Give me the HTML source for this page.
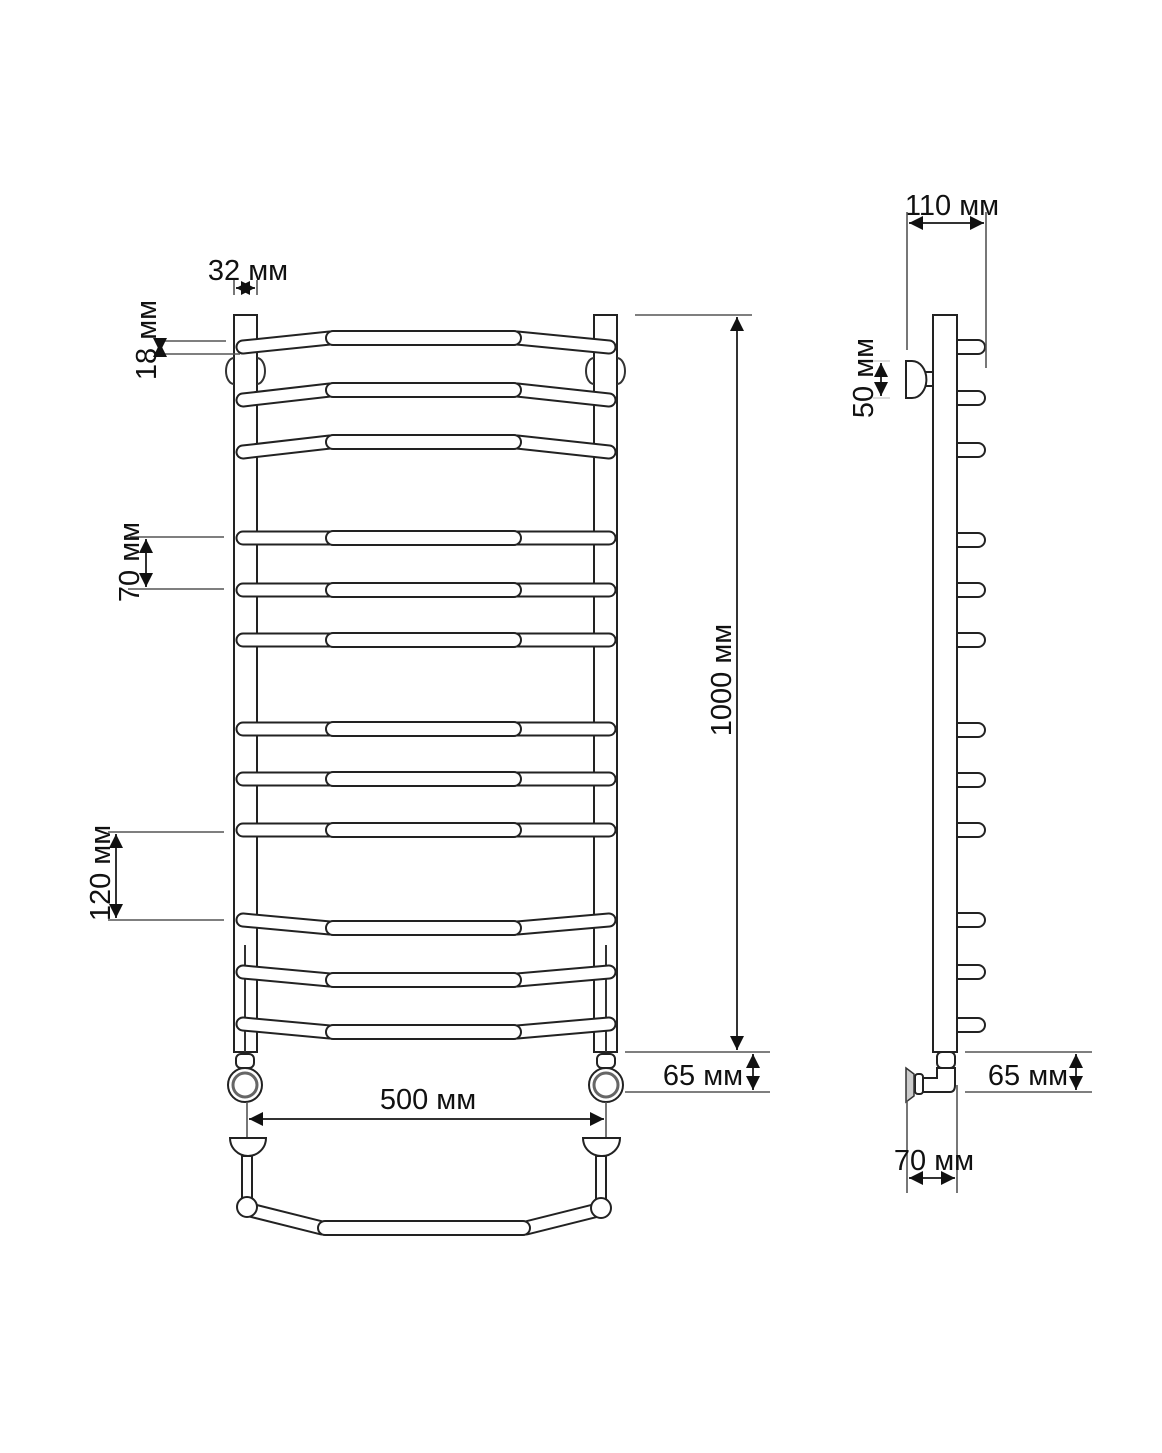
<!DOCTYPE html>
<html><head><meta charset="utf-8"><style>
html,body{margin:0;padding:0;background:#fff}
svg{display:block}
text{font-family:"Liberation Sans",sans-serif;fill:#111}
.o{stroke:#222;stroke-width:15;stroke-linecap:round;fill:none}
.i{stroke:#fff;stroke-width:11;stroke-linecap:round;fill:none}
.m{fill:#fff;stroke:#222;stroke-width:2}
.l{stroke:#333;stroke-width:2;fill:none}
.t{stroke:#555;stroke-width:1.6;fill:none}
</style></head><body>
<svg width="1162" height="1453" viewBox="0 0 1162 1453" xmlns="http://www.w3.org/2000/svg">
<defs>
<marker id="a" viewBox="0 0 10 10" refX="10" refY="5" markerWidth="7" markerHeight="7" orient="auto-start-reverse"><path d="M0,0L10,5L0,10z" fill="#111"/></marker>
</defs>
<rect x="234" y="315" width="23" height="737" class="m"/>
<rect x="594" y="315" width="23" height="737" class="m"/>
<line x1="245" y1="945" x2="245" y2="1052" class="l"/>
<line x1="606" y1="945" x2="606" y2="1052" class="l"/>
<path d="M234,358 A8,13 0 0 0 234,384" class="l"/><path d="M257,358 A8,13 0 0 1 257,384" class="l"/>
<path d="M594,358 A8,13 0 0 0 594,384" class="l"/><path d="M617,358 A8,13 0 0 1 617,384" class="l"/>

<g>
<path d="M243,347L330,338M517,338L609,347" class="o"/><path d="M243,347L330,338M517,338L609,347" class="i"/><rect x="326" y="331" width="195" height="14" rx="7" class="m"/>
<path d="M243,400L330,390M517,390L609,400" class="o"/><path d="M243,400L330,390M517,390L609,400" class="i"/><rect x="326" y="383" width="195" height="14" rx="7" class="m"/>
<path d="M243,452L330,442M517,442L609,452" class="o"/><path d="M243,452L330,442M517,442L609,452" class="i"/><rect x="326" y="435" width="195" height="14" rx="7" class="m"/>
<path d="M243,538L609,538M243,590L609,590M243,640L609,640M243,729L609,729M243,779L609,779M243,830L609,830" class="o"/>
<path d="M243,538L609,538M243,590L609,590M243,640L609,640M243,729L609,729M243,779L609,779M243,830L609,830" class="i"/>
<rect x="326" y="531" width="195" height="14" rx="7" class="m"/>
<rect x="326" y="583" width="195" height="14" rx="7" class="m"/>
<rect x="326" y="633" width="195" height="14" rx="7" class="m"/>
<rect x="326" y="722" width="195" height="14" rx="7" class="m"/>
<rect x="326" y="772" width="195" height="14" rx="7" class="m"/>
<rect x="326" y="823" width="195" height="14" rx="7" class="m"/>
<path d="M243,920L330,928M517,928L609,920" class="o"/><path d="M243,920L330,928M517,928L609,920" class="i"/><rect x="326" y="921" width="195" height="14" rx="7" class="m"/>
<path d="M243,972L330,980M517,980L609,972" class="o"/><path d="M243,972L330,980M517,980L609,972" class="i"/><rect x="326" y="973" width="195" height="14" rx="7" class="m"/>
<path d="M243,1024L330,1032M517,1032L609,1024" class="o"/><path d="M243,1024L330,1032M517,1032L609,1024" class="i"/><rect x="326" y="1025" width="195" height="14" rx="7" class="m"/>
</g>
<g>
<rect x="236" y="1054" width="18" height="14" rx="5" class="m"/>
<circle cx="245" cy="1085" r="17" class="m"/><circle cx="245" cy="1085" r="12" fill="none" stroke="#666" stroke-width="3"/>
<rect x="597" y="1054" width="18" height="14" rx="5" class="m"/>
<circle cx="606" cy="1085" r="17" class="m"/><circle cx="606" cy="1085" r="12" fill="none" stroke="#666" stroke-width="3"/>
<line x1="247" y1="1102" x2="247" y2="1140" class="t"/><line x1="606" y1="1102" x2="606" y2="1140" class="t"/>
</g>
<path d="M230,1138H266A18,18 0 0 1 248,1156A18,18 0 0 1 230,1138Z" class="m"/>
<path d="M583,1138H620A18,18 0 0 1 601,1156A18,18 0 0 1 583,1138Z" class="m"/>
<rect x="242" y="1156" width="10" height="44" class="m"/>
<rect x="596" y="1156" width="10" height="44" class="m"/>
<path d="M250,1210L322,1228M526,1228L598,1210" class="o"/><path d="M250,1210L322,1228M526,1228L598,1210" class="i"/>
<rect x="318" y="1221" width="212" height="14" rx="7" class="m"/>
<circle cx="247" cy="1207" r="10" class="m"/><circle cx="601" cy="1208" r="10" class="m"/>

<text x="248" y="280" font-size="29" text-anchor="middle">32 мм</text>
<line x1="234" y1="280" x2="234" y2="295" class="t"/><line x1="257" y1="280" x2="257" y2="295" class="t"/>
<line x1="236" y1="288" x2="255" y2="288" class="l" marker-start="url(#a)" marker-end="url(#a)"/>
<line x1="160" y1="341" x2="226" y2="341" class="t"/><line x1="155" y1="354" x2="240" y2="354" class="t"/>
<line x1="160" y1="343" x2="160" y2="352" class="l" marker-start="url(#a)" marker-end="url(#a)"/>
<text transform="translate(156,340) rotate(-90)" font-size="29" text-anchor="middle">18 мм</text>
<line x1="130" y1="537" x2="224" y2="537" class="t"/><line x1="128" y1="589" x2="224" y2="589" class="t"/>
<line x1="146" y1="539" x2="146" y2="587" class="l" marker-start="url(#a)" marker-end="url(#a)"/>
<text transform="translate(139,562) rotate(-90)" font-size="29" text-anchor="middle">70 мм</text>
<line x1="108" y1="832" x2="224" y2="832" class="t"/><line x1="108" y1="920" x2="224" y2="920" class="t"/>
<line x1="116" y1="834" x2="116" y2="918" class="l" marker-start="url(#a)" marker-end="url(#a)"/>
<text transform="translate(110,873) rotate(-90)" font-size="29" text-anchor="middle">120 мм</text>
<text x="428" y="1109" font-size="29" text-anchor="middle">500 мм</text>
<line x1="249" y1="1119" x2="604" y2="1119" class="l" marker-start="url(#a)" marker-end="url(#a)"/>
<line x1="635" y1="315" x2="752" y2="315" class="t"/>
<line x1="625" y1="1052" x2="770" y2="1052" class="t"/><line x1="625" y1="1092" x2="770" y2="1092" class="t"/>
<line x1="737" y1="317" x2="737" y2="1050" class="l" marker-start="url(#a)" marker-end="url(#a)"/>
<text transform="translate(731,680) rotate(-90)" font-size="29" text-anchor="middle">1000 мм</text>
<text x="703" y="1085" font-size="29" text-anchor="middle">65 мм</text>
<line x1="753" y1="1054" x2="753" y2="1090" class="l" marker-start="url(#a)" marker-end="url(#a)"/>

<rect x="933" y="315" width="24" height="737" class="m"/>
<g class="m">
<path d="M957,340H978A7,7 0 0 1 978,354H957Z"/>
<path d="M957,391H978A7,7 0 0 1 978,405H957Z"/>
<path d="M957,443H978A7,7 0 0 1 978,457H957Z"/>
<path d="M957,533H978A7,7 0 0 1 978,547H957Z"/>
<path d="M957,583H978A7,7 0 0 1 978,597H957Z"/>
<path d="M957,633H978A7,7 0 0 1 978,647H957Z"/>
<path d="M957,723H978A7,7 0 0 1 978,737H957Z"/>
<path d="M957,773H978A7,7 0 0 1 978,787H957Z"/>
<path d="M957,823H978A7,7 0 0 1 978,837H957Z"/>
<path d="M957,913H978A7,7 0 0 1 978,927H957Z"/>
<path d="M957,965H978A7,7 0 0 1 978,979H957Z"/>
<path d="M957,1018H978A7,7 0 0 1 978,1032H957Z"/>
</g>
<rect x="925" y="372" width="8" height="14" class="m"/>
<path d="M906,361H912A14,18 0 0 1 912,398H906Z" class="m"/>
<text x="952" y="215" font-size="29" text-anchor="middle">110 мм</text>
<line x1="907" y1="212" x2="907" y2="350" class="t"/><line x1="986" y1="212" x2="986" y2="368" class="t"/>
<line x1="909" y1="223" x2="984" y2="223" class="l" marker-start="url(#a)" marker-end="url(#a)"/>
<line x1="873" y1="361" x2="890" y2="361" stroke="#bbb"/><line x1="873" y1="398" x2="890" y2="398" stroke="#bbb"/>
<line x1="881" y1="363" x2="881" y2="396" class="l" marker-start="url(#a)" marker-end="url(#a)"/>
<text transform="translate(873,378) rotate(-90)" font-size="29" text-anchor="middle">50 мм</text>
<rect x="937" y="1052" width="18" height="16" rx="5" class="m"/>
<path d="M937,1068V1078H922V1092H950Q955,1092 955,1085V1068Z" class="m"/>
<rect x="915" y="1074" width="8" height="20" rx="3" class="m"/>
<path d="M906,1068L914,1074V1096L906,1102Z" fill="#ccc" stroke="#333" stroke-width="1.5"/>
<line x1="965" y1="1052" x2="1092" y2="1052" class="t"/><line x1="965" y1="1092" x2="1092" y2="1092" class="t"/>
<line x1="1076" y1="1054" x2="1076" y2="1090" class="l" marker-start="url(#a)" marker-end="url(#a)"/>
<text x="1028" y="1085" font-size="29" text-anchor="middle">65 мм</text>
<line x1="907" y1="1100" x2="907" y2="1193" class="t"/><line x1="957" y1="1085" x2="957" y2="1193" class="t"/>
<line x1="909" y1="1178" x2="955" y2="1178" class="l" marker-start="url(#a)" marker-end="url(#a)"/>
<text x="934" y="1170" font-size="29" text-anchor="middle">70 мм</text>
</svg>
</body></html>
